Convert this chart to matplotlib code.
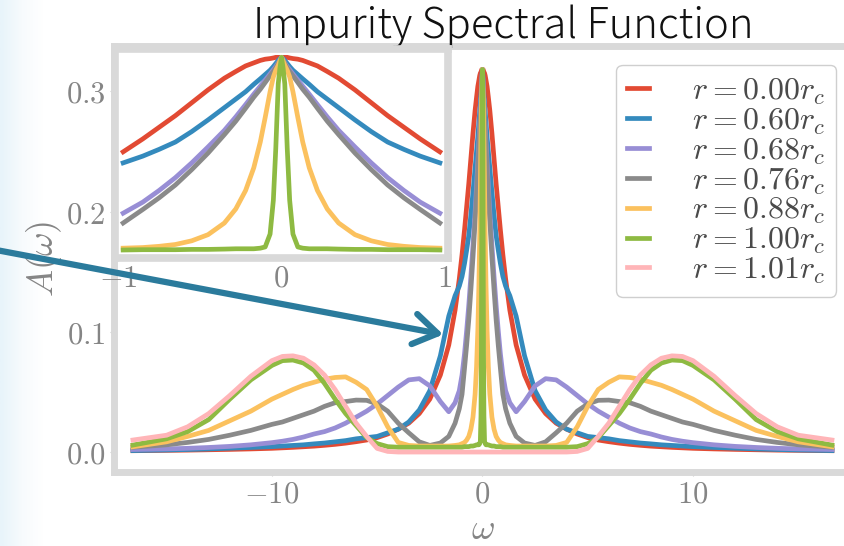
import numpy as np
import matplotlib
matplotlib.use('Agg')
import matplotlib.pyplot as plt
from matplotlib.patches import FancyArrowPatch
from matplotlib.colors import LinearSegmentedColormap

plt.rcParams['mathtext.fontset'] = 'cm'

# omega >= 0 half of the grid, the spectra are symmetric in omega
w_half = [0, 0.01, 0.02, 0.035, 0.05, 0.07, 0.1, 0.13, 0.17, 0.22,
          0.28, 0.35, 0.45, 0.55, 0.65, 0.75, 0.85, 0.97, 1.1, 1.3,
          1.6, 2.0, 2.5, 3.0, 3.5, 4.0, 4.5, 5.0, 5.5, 6.0,
          6.5, 7.0, 7.5, 8.0, 8.5, 9.0, 9.5, 10, 11, 12,
          13, 14, 15, 16.6]

a_000 = [0.318, 0.318, 0.318, 0.318, 0.317, 0.316, 0.315, 0.313, 0.309, 0.304,
         0.295, 0.284, 0.265, 0.244, 0.223, 0.204, 0.185, 0.164, 0.144, 0.118,
         0.089, 0.064, 0.044, 0.032, 0.024, 0.019, 0.015, 0.012, 0.010, 0.0086,
         0.0074, 0.0064, 0.0056, 0.0049, 0.0044, 0.0039, 0.0035, 0.0031, 0.0026, 0.0022,
         0.0019, 0.0016, 0.0014, 0.0011]
a_060 = [0.318, 0.316, 0.313, 0.308, 0.303, 0.297, 0.290, 0.283, 0.274, 0.262,
         0.250, 0.236, 0.216, 0.197, 0.180, 0.168, 0.157, 0.146, 0.138, 0.130,
         0.113, 0.080, 0.051, 0.035, 0.025, 0.019, 0.016, 0.013, 0.012, 0.011,
         0.0095, 0.0085, 0.0075, 0.0068, 0.0060, 0.0055, 0.0050, 0.0045, 0.0038, 0.0032,
         0.0026, 0.0021, 0.0017, 0.0012]
a_068 = [0.318, 0.314, 0.309, 0.303, 0.298, 0.291, 0.281, 0.271, 0.258, 0.241,
         0.221, 0.199, 0.172, 0.146, 0.122, 0.101, 0.082, 0.064, 0.051, 0.041,
         0.0335, 0.042, 0.055, 0.061, 0.060, 0.054, 0.047, 0.040, 0.034, 0.029,
         0.024, 0.020, 0.017, 0.015, 0.0125, 0.0105, 0.0090, 0.0078, 0.0060, 0.0047,
         0.0038, 0.0031, 0.0026, 0.0021]
a_076 = [0.318, 0.313, 0.308, 0.301, 0.295, 0.288, 0.277, 0.266, 0.253, 0.235,
         0.214, 0.192, 0.162, 0.135, 0.110, 0.089, 0.070, 0.048, 0.036, 0.024,
         0.013, 0.0075, 0.0055, 0.0085, 0.016, 0.024, 0.034, 0.040, 0.043, 0.0432,
         0.042, 0.041, 0.038, 0.034, 0.031, 0.028, 0.025, 0.023, 0.018, 0.014,
         0.0105, 0.008, 0.006, 0.004]
a_088 = [0.318, 0.312, 0.305, 0.297, 0.286, 0.262, 0.220, 0.180, 0.138, 0.101,
         0.071, 0.048, 0.029, 0.019, 0.013, 0.010, 0.008, 0.007, 0.006, 0.0055,
         0.005, 0.005, 0.005, 0.005, 0.0055, 0.008, 0.021, 0.038, 0.052, 0.058,
         0.0625, 0.062, 0.0605, 0.058, 0.0555, 0.052, 0.048, 0.044, 0.034, 0.026,
         0.018, 0.013, 0.0085, 0.0044]
a_100 = [0.318, 0.300, 0.275, 0.170, 0.085, 0.030, 0.009, 0.007, 0.006, 0.006,
         0.006, 0.0055, 0.005, 0.005, 0.0045, 0.0045, 0.0045, 0.004, 0.004, 0.004,
         0.004, 0.004, 0.004, 0.004, 0.004, 0.004, 0.0045, 0.007, 0.012, 0.022,
         0.032, 0.044, 0.057, 0.068, 0.074, 0.0765, 0.076, 0.072, 0.060, 0.044,
         0.027, 0.017, 0.011, 0.0058]
a_101 = [0.0, 0.0, 0.0, 0.0, 0.0, 0.0, 0.0, 0.0, 0.0, 0.0,
         0.0, 0.0, 0.0, 0.0, 0.0, 0.0, 0.0, 0.0, 0.0, 0.0,
         0.0, 0.0, 0.0, 0.0, 0.0, 0.0, 0.0005, 0.003, 0.013, 0.024,
         0.038, 0.052, 0.064, 0.0725, 0.078, 0.080, 0.0795, 0.076, 0.063, 0.047,
         0.032, 0.021, 0.014, 0.010]

r_labels = ['0.00', '0.60', '0.68', '0.76', '0.88', '1.00', '1.01']
curves = [a_000, a_060, a_068, a_076, a_088, a_100, a_101]
colors = ['#E24A33', '#348ABD', '#988ED5', '#8a8a8a', '#FBC15E', '#8EBA42', '#FFB5B8']

xticks = [-10, 0, 10]
yticks = [0.0, 0.1, 0.2, 0.3]
inset_xticks = [-1, 0, 1]


def mirror(w, a):
    w = np.asarray(w, float)
    a = np.asarray(a, float)
    return np.concatenate([-w[::-1], w[1:]]), np.concatenate([a[::-1], a[1:]])


spine_c = '#d9d9d9'
tick_c = '#858585'

fig = plt.figure(figsize=(8.45, 5.46), dpi=100)

# slide background, faint blue only at the left edge
bg = fig.add_axes([0, 0, 1, 1], zorder=-10)
bg.axis('off')
grad = np.clip(np.linspace(0, 1, 400) / 0.05, 0, 1)[None, :]
cm_bg = LinearSegmentedColormap.from_list('bg', ['#e8f4fa', '#f7fbfd', '#ffffff'])
bg.imshow(grad, aspect='auto', cmap=cm_bg, extent=[0, 1, 0, 1], interpolation='bilinear')
bg.set_xlim(0, 1)
bg.set_ylim(0, 1)

ax = fig.add_axes([0.1349, 0.1364, 0.8721, 0.7802])
for a, c, lab in zip(curves, colors, r_labels):
    w, y = mirror(w_half, a)
    ax.plot(w, y, color=c, lw=3.4, label=r'$r = %sr_c$' % lab)
ax.set_xlim(-17.5, 17.5)
ax.set_ylim(-0.0162, 0.338)
ax.set_xticks(xticks, labels=[r'$%d$' % t for t in xticks])
ax.set_yticks(yticks, labels=[r'$%.1f$' % t for t in yticks])
ax.tick_params(labelsize=22, labelcolor=tick_c, color='#cccccc', length=3, pad=3)
for s in ax.spines.values():
    s.set_color(spine_c)
    s.set_linewidth(5)
ax.set_xlabel(r'$\omega$', fontsize=26, color=tick_c)
ax.set_ylabel(r'$A(\omega)$', fontsize=26, color=tick_c)
ax.xaxis.set_label_coords(0.5, -0.094)
ax.yaxis.set_label_coords(-0.068, 0.5)

leg = ax.legend(loc='upper right', bbox_to_anchor=(0.9798, 0.9542), borderaxespad=0,
                fontsize=23, handlelength=0.7, handletextpad=1.35, labelspacing=-0.05,
                borderpad=0.33, fancybox=True, framealpha=1, edgecolor='#cfcfcf')
for t in leg.get_texts():
    t.set_color('#4a4a4a')
for h in leg.get_lines():
    h.set_linewidth(3.4)

# inset: zoom on the central peak
axin = fig.add_axes([0.1361, 0.5275, 0.3941, 0.3832], zorder=5)
for a, c in zip(curves[:6], colors[:6]):
    w, y = mirror(w_half, a)
    keep = np.abs(w) <= 0.97
    axin.plot(w[keep], y[keep], color=c, lw=3.4)
axin.set_xlim(-1.02, 1.02)
axin.set_ylim(-0.009, 0.332)
axin.set_xticks(inset_xticks, labels=[r'$%d$' % t for t in inset_xticks])
axin.set_yticks([])
axin.tick_params(labelsize=22, labelcolor=tick_c, length=0, pad=4)
for s in axin.spines.values():
    s.set_color(spine_c)
    s.set_linewidth(5.5)

fig.text(0.595, 0.930, 'Impurity Spectral Function', ha='center', va='baseline',
         fontsize=30, fontweight='light', family=['Noto Sans CJK JP', 'DejaVu Sans'],
         color='#111111')

arrow = FancyArrowPatch((-0.01, 0.5437), (0.5278, 0.3864), transform=fig.transFigure,
                        arrowstyle='->,head_length=0.85,head_width=0.55', mutation_scale=20,
                        lw=4.5, color='#2b7b9c', capstyle='round', joinstyle='round', zorder=20)
fig.add_artist(arrow)

fig.savefig('out.png', dpi=100)
